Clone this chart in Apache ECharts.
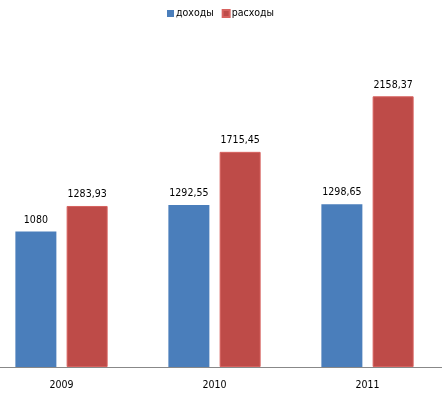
<!DOCTYPE html>
<html>
<head>
<meta charset="utf-8">
<script src="https://cdn.jsdelivr.net/npm/echarts@6/dist/echarts.min.js"></script>
<style>
  html, body { margin: 0; padding: 0; background: #fff; overflow: hidden; }
  /* plot is wider than the window: the left edge is cut off like in the original */
  #chart { width: 459px; height: 398px; margin-left: -15px; }
</style>
</head>
<body>
<div id="chart"></div>
<script>
const years = ['2009', '2010', '2011'];
const income = [1080, 1292.55, 1298.65];
const expenses = [1283.93, 1715.45, 2158.37];
const seriesNames = ['доходы', 'расходы'];

const chart = echarts.init(document.getElementById('chart'));

// values shown with a comma as decimal separator
const fmt = (p) => String(p.value).replace('.', ',');

const font = 'DejaVu Sans Condensed';

const labelStyle = {
  show: true,
  position: 'top',
  distance: 6,
  color: '#000',
  fontFamily: font,
  fontSize: 10.5,
  formatter: fmt
};

chart.setOption({
  animation: false,
  textStyle: { fontFamily: font },
  legend: {
    top: 3,
    left: 177,
    itemWidth: 7,
    itemHeight: 7,
    itemGap: 8,
    icon: 'rect',
    textStyle: { fontSize: 10.5, color: '#000', fontFamily: font, padding: [0, 0, 0, -3] },
    data: seriesNames
  },
  grid: {
    left: 0,
    right: 0,
    top: 66,
    bottom: 31
  },
  xAxis: {
    type: 'category',
    data: years,
    axisLine: { lineStyle: { color: '#888', width: 1 } },
    axisTick: { show: false },
    axisLabel: { color: '#000', fontSize: 10.5, fontFamily: font, margin: 13 }
  },
  yAxis: {
    type: 'value',
    min: 0,
    max: 2400,
    show: false,
    splitLine: { show: false }
  },
  series: [
    {
      name: seriesNames[0],
      type: 'bar',
      data: income,
      barWidth: 41,
      barGap: '25%',
      itemStyle: { color: '#4a7ebb' },
      label: labelStyle
    },
    {
      name: seriesNames[1],
      type: 'bar',
      data: expenses,
      barWidth: 41,
      itemStyle: { color: '#be4b48', borderColor: '#d7625f', borderWidth: 1 },
      label: labelStyle
    }
  ]
});
</script>
</body>
</html>
